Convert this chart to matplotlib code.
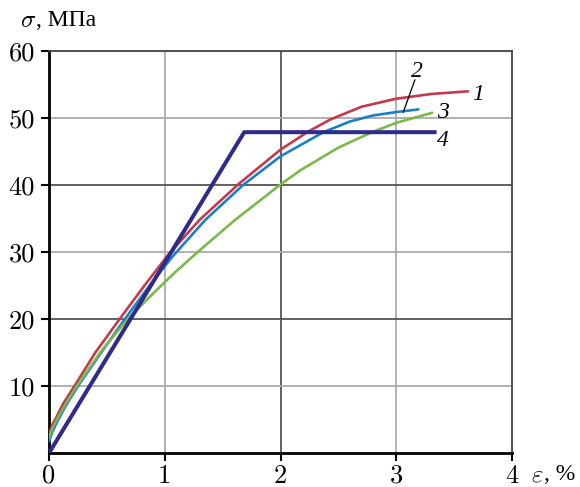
import numpy as np
import matplotlib
matplotlib.use("Agg")
import matplotlib.pyplot as plt

# curve 1 (red)
eps1 = [0.0, 0.03, 0.066, 0.12, 0.22, 0.40, 0.61, 0.82, 1.03, 1.30, 1.64, 2.0, 2.24,
        2.43, 2.70, 3.0, 3.30, 3.62]
sig1 = [2.9, 4.3, 5.4, 7.3, 10.0, 15.0, 20.0, 24.9, 29.6, 34.8, 40.2, 45.3, 48.0,
        49.8, 51.7, 52.9, 53.6, 54.0]
# curve 2 (blue)
eps2 = [0.0, 0.03, 0.08, 0.15, 0.25, 0.455, 0.655, 0.86, 1.06, 1.35, 1.675, 2.0, 2.37,
        2.60, 2.80, 3.0, 3.19]
sig2 = [1.7, 3.2, 5.0, 7.2, 10.0, 15.1, 20.0, 24.8, 29.2, 34.8, 40.0, 44.3, 47.9,
        49.5, 50.4, 50.9, 51.3]
# curve 3 (green)
eps3 = [0.0, 0.03, 0.08, 0.15, 0.24, 0.45, 0.68, 0.88, 1.09, 1.29, 1.60, 2.0, 2.17,
        2.50, 2.79, 3.0, 3.31]
sig3 = [2.2, 3.7, 5.4, 7.5, 10.0, 15.2, 20.0, 23.5, 27.0, 30.1, 34.7, 40.1, 42.2,
        45.6, 47.9, 49.3, 50.8]
# curve 4 (bilinear model)
eps4 = [0.0, 1.686, 3.33]
sig4 = [0.0, 47.9, 47.9]

xticks = [0, 1, 2, 3, 4]
yticks = [10, 20, 30, 40, 50, 60]
curve_labels = ["1", "2", "3", "4"]

light, dark = "#ababab", "#555555"
xgrid_colors = [light, dark, light]          # x = 1, 2, 3
ygrid_colors = [light, dark, light, dark, light]  # y = 10 ... 50

fig = plt.figure(figsize=(5.8, 4.87), dpi=100)
ax = fig.add_axes([0.0845, 0.0698, 0.7985, 0.8252])

for xv, c in zip(xticks[1:-1], xgrid_colors):
    ax.axvline(xv, color=c, lw=1.3, zorder=1)
for yv, c in zip(yticks[:-1], ygrid_colors):
    ax.axhline(yv, color=c, lw=1.3, zorder=1)

ax.plot(eps1, sig1, color="#c23a4b", lw=1.9, solid_capstyle="round", solid_joinstyle="round", zorder=3)
ax.plot(eps2, sig2, color="#1b7fca", lw=1.9, solid_capstyle="round", solid_joinstyle="round", zorder=3)
ax.plot(eps3, sig3, color="#7cb84a", lw=1.9, solid_capstyle="round", solid_joinstyle="round", zorder=3)
ax.plot(eps4, sig4, color="#2f2b88", lw=2.9, zorder=4)

ax.set_xlim(0, 4)
ax.set_ylim(0, 60)
ax.set_xticks(xticks)
ax.set_yticks(yticks)
ax.set_xticklabels([str(t) for t in xticks], fontfamily="cmr10", fontsize=19)
ax.set_yticklabels([str(t) for t in yticks], fontfamily="cmr10", fontsize=19)
ax.tick_params(direction="out", length=6, width=1.5, color="black")
ax.tick_params(axis="x", pad=2)
ax.tick_params(axis="y", pad=4)

for s in ["left", "bottom"]:
    ax.spines[s].set_linewidth(2.0)
    ax.spines[s].set_color("black")
for s in ["top", "right"]:
    ax.spines[s].set_linewidth(1.3)
    ax.spines[s].set_color("#444444")

# curve numbers
lab_font = dict(family="Liberation Serif", style="italic", fontsize=17, va="center", ha="center")
ax.text(3.71, 53.6, curve_labels[0], **lab_font)
ax.text(3.18, 57.0, curve_labels[1], **lab_font)
ax.text(3.40, 50.9, curve_labels[2], **lab_font)
ax.text(3.40, 46.7, curve_labels[3], **lab_font)
ax.plot([3.16, 3.06], [55.7, 50.9], color="black", lw=0.9, zorder=5)

# axis titles
plt.rcParams["mathtext.fontset"] = "cm"
fig.text(20 / 580, 1 - 20 / 487, r"$\sigma$", fontsize=18, va="center", ha="left")
fig.text(36 / 580, 1 - 20 / 487, ", МПа", family="Liberation Serif", fontsize=17,
         va="center", ha="left")
fig.text(531 / 580, 1 - 475 / 487, r"$\varepsilon$", fontsize=18, va="center", ha="left")
fig.text(544 / 580, 1 - 475 / 487, ", %", family="Liberation Serif", fontsize=17,
         va="center", ha="left")

fig.savefig("out.png", dpi=100)
